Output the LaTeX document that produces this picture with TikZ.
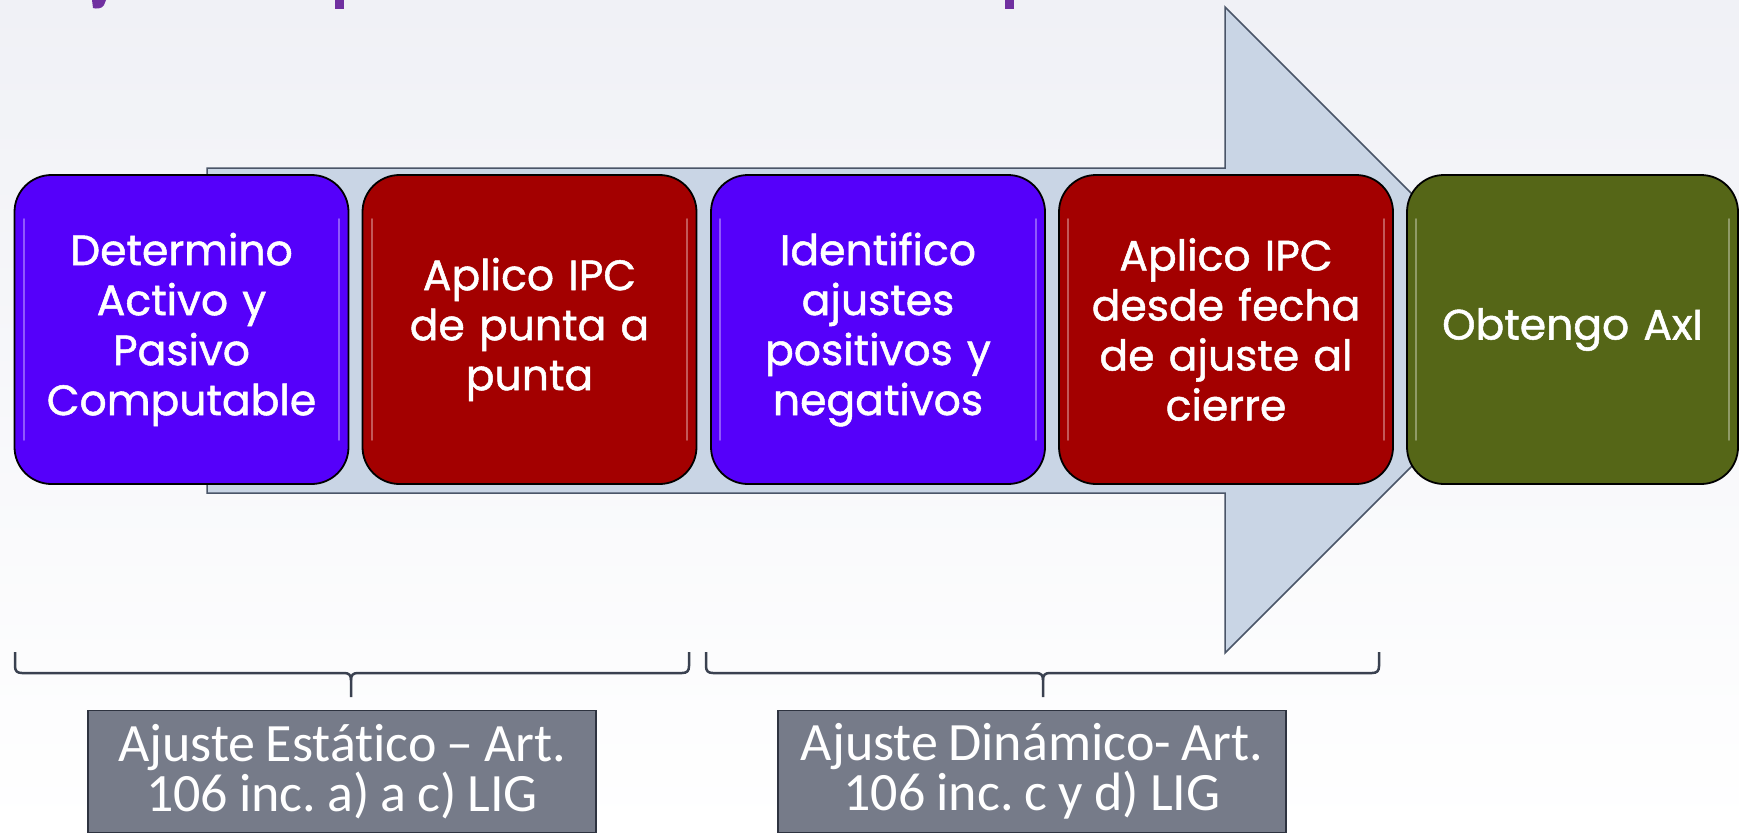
\documentclass[tikz,border=0pt]{standalone}
\usepackage{fontspec}
\setmainfont{Poppins}
\newfontfamily\stepfont{Poppins}[FakeBold=1.2]
\newfontfamily\lblfont{Carlito}[Ligatures=NoCommon]
\newcommand\lblspacing{\spaceskip=0.18em plus 0.05em\relax}
\usetikzlibrary{calc}
\definecolor{bgtop}{HTML}{F0F1F6}
\definecolor{arrowfill}{HTML}{C9D5E5}
\definecolor{arrowline}{HTML}{4A5568}
\definecolor{stepviolet}{HTML}{5500FA}
\definecolor{stepred}{HTML}{A30000}
\definecolor{stepgreen}{HTML}{556617}
\definecolor{lblgray}{HTML}{767B89}
\definecolor{lblline}{HTML}{2E3340}
\definecolor{bracecol}{HTML}{3A4150}
\definecolor{titlepurple}{HTML}{7030A0}
\begin{document}
\frenchspacing
\begin{tikzpicture}[x=1pt,y=-1pt,
  stepbox/.style={draw=black, line width=1.8pt, rounded corners=37pt,
    minimum width=334pt, minimum height=309pt, text width=316pt,
    align=center, text=white, inner sep=0pt,
    font=\stepfont\fontsize{42.5}{50}\selectfont},
  gloss/.style={draw=white, opacity=0.35, line width=2pt, line cap=round},
  lblbox/.style={draw=lblline, line width=1.5pt, fill=lblgray,
    minimum width=508pt, minimum height=122pt, text width=490pt,
    align=center, text=white, inner sep=0pt,
    font=\lblfont\fontsize{54}{50}\selectfont},
  bracestyle/.style={draw=bracecol, line width=2.5pt},
  arrowshape/.style={draw=arrowline, fill=arrowfill, line width=1.5pt}]
\useasboundingbox (0,0) rectangle (1739,833);
\fill[top color=bgtop, bottom color=white] (0,0) rectangle (1739,833);
% cut-off title fragments
\fill[titlepurple] (92,0) -- (106,0) -- (104,5) .. controls (102,9) and (96,9) .. (93,8) -- cycle;
\fill[titlepurple] (335,0) rectangle (344,9);
\fill[titlepurple] (1005,0) rectangle (1014,9);
% big arrow
\draw[arrowshape] (207,168) -- (1225,168) -- (1225,7) -- (1548,330) -- (1225,653) -- (1225,493) -- (207,493) -- cycle;
% steps
\node[stepbox, fill=stepviolet] (b1) at (181.5,329.5) {Determino\\Activo y\\Pasivo\\Computable};
\node[stepbox, fill=stepred] (b2) at (529.5,329.5) {Aplico IPC\\de punta a\\punta};
\node[stepbox, fill=stepviolet] (b3) at (878,329.5) {Identifico\\ajustes\\positivos y\\negativos};
\node[stepbox, fill=stepred] (b4) at (1226,329.5) {Aplico IPC\\desde fecha\\de ajuste al\\cierre};
\node[stepbox, fill=stepgreen, minimum width=331pt] (b5) at (1572.5,329.5) {Obtengo AxI};
\foreach \b in {b1,b2,b3,b4,b5}{
  \draw[gloss] ($(\b.north west)+(10,45)$) -- ($(\b.south west)+(10,-45)$);
  \draw[gloss] ($(\b.north east)+(-10,45)$) -- ($(\b.south east)+(-10,-45)$);
}
% braces
\coordinate (la) at (15,652);
\coordinate (lb) at (689,652);
\coordinate (lt) at (351,697);
\draw[bracestyle] (la) -- ++(0,14) .. controls ++(0,5) and ++(-5,0) .. ++(7,7) -- ($(lt)+(-7,-24)$) .. controls ++(5,0) and ++(0,-5) .. ($(lt)+(0,-17)$) -- (lt);
\draw[bracestyle] (lb) -- ++(0,14) .. controls ++(0,5) and ++(5,0) .. ++(-7,7) -- ($(lt)+(7,-24)$) .. controls ++(-5,0) and ++(0,-5) .. ($(lt)+(0,-17)$);
\coordinate (ra) at (706,652);
\coordinate (rb) at (1379,652);
\coordinate (rt) at (1043,697);
\draw[bracestyle] (ra) -- ++(0,14) .. controls ++(0,5) and ++(-5,0) .. ++(7,7) -- ($(rt)+(-7,-24)$) .. controls ++(5,0) and ++(0,-5) .. ($(rt)+(0,-17)$) -- (rt);
\draw[bracestyle] (rb) -- ++(0,14) .. controls ++(0,5) and ++(5,0) .. ++(-7,7) -- ($(rt)+(7,-24)$) .. controls ++(-5,0) and ++(0,-5) .. ($(rt)+(0,-17)$);
% labels
\node[lblbox] (l1) at (342,771.5) {\lblspacing Ajuste Estático – Art.\\106 inc. a) a c) LIG};
\node[lblbox] (l2) at (1032,771.5) {\lblspacing Ajuste Dinámico- Art.\\106 inc. c y d) LIG};
\end{tikzpicture}
\end{document}
